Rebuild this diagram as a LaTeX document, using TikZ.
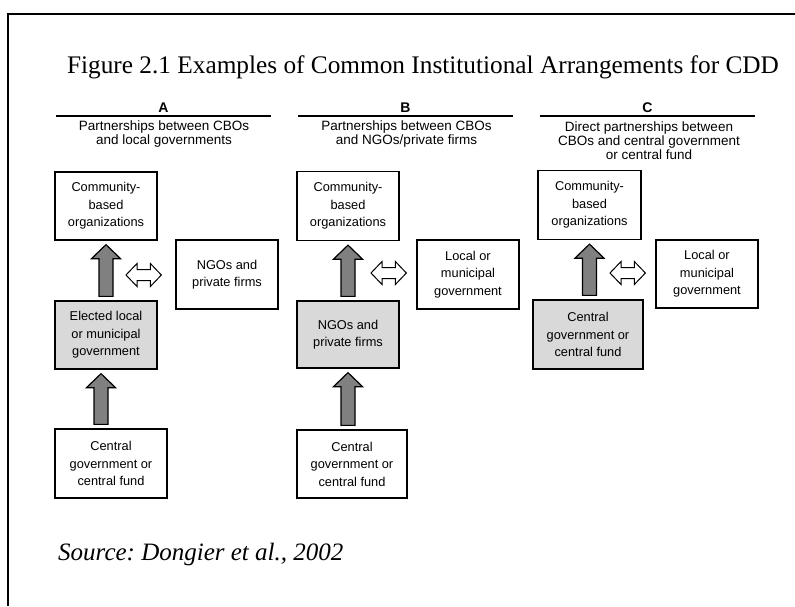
\documentclass[tikz,border=0pt]{standalone}
\usepackage{fontspec}
\setmainfont{Liberation Serif}
\setsansfont{Liberation Sans}
\usetikzlibrary{calc}
\definecolor{boxgray}{HTML}{D9D9D9}
\definecolor{arrowgray}{HTML}{808080}
\frenchspacing

\tikzset{
  box/.style={draw=black, line width=1.3pt, fill=white, minimum width=102pt,
    minimum height=68pt, align=center, inner sep=2pt,
    font=\sffamily\fontsize{12.8}{17.5}\selectfont},
  shaded/.style={box, fill=boxgray},
  heading/.style={font=\sffamily\bfseries\fontsize{14}{16}\selectfont,
    anchor=base, inner sep=0pt},
  subhead/.style={font=\sffamily\fontsize{13.5}{14}\selectfont, align=center,
    inner sep=0pt},
  rule/.style={line width=2pt},
  frame/.style={line width=2.6pt},
  titletext/.style={font=\fontsize{25.3}{30}\selectfont, anchor=base, inner sep=0pt},
  sourcetext/.style={font=\itshape\fontsize{25}{30}\selectfont, anchor=base west,
    inner sep=0pt},
  % broad upward arrow from the lower box to the upper box
  fatup/.style={draw=black, line width=1.2pt, fill=arrowgray, line join=miter,
    to path={let \p1=(\tikztostart), \p2=(\tikztotarget) in
      (\x2-7pt,\y1+4pt) -- (\x2-7pt,\y2-18pt) -- (\x2-14.5pt,\y2-18pt)
      -- (\x2,\y2-4pt) -- (\x2+14.5pt,\y2-18pt) -- (\x2+7pt,\y2-18pt)
      -- (\x2+7pt,\y1+4pt) -- cycle}},
  % hollow two-headed arrow
  dblarrow/.style={draw=black, line width=1pt, fill=white, line join=miter,
    to path={let \p1=(\tikztostart), \p2=(\tikztotarget) in
      (\x1,\y1) -- (\x1+11pt,\y1+11.5pt) -- (\x1+11pt,\y1+5.5pt)
      -- (\x2-11pt,\y1+5.5pt) -- (\x2-11pt,\y1+11.5pt) -- (\x2,\y1)
      -- (\x2-11pt,\y1-11.5pt) -- (\x2-11pt,\y1-5.5pt)
      -- (\x1+11pt,\y1-5.5pt) -- (\x1+11pt,\y1-11.5pt) -- cycle}},
}

\begin{document}
\begin{tikzpicture}[x=1pt, y=-1pt]
\useasboundingbox (0,0) rectangle (795,606);
\fill[white] (0,0) rectangle (795,606);

% open frame
\draw[frame] (8,606) -- (8,14) -- (796,14);

% title and source
\node[titletext] (title) at (423,73) {Figure 2.1 Examples of Common Institutional Arrangements for CDD};
\node[sourcetext] (src) at (58,560) {Source: Dongier et al., 2002};

% ---------- column A ----------
\node[heading] (hA) at (163.5,112) {A};
\draw[rule] (56,116) -- (271,116);
\node[subhead] (sA) at (164,134.5) {Partnerships between CBOs\\and local governments};

\node[box] (a_cbo) at (106,206) {Community-\\based\\organizations};
\node[shaded] (a_elect) at (106,335) {Elected local\\or municipal\\government};
\node[box, minimum height=69pt] (a_ngo) at (227,274.5) {NGOs and\\private firms};
\node[box, minimum width=112pt, minimum height=69pt] (a_cen) at (111,463.5) {Central\\government or\\central fund};

\draw[fatup] (a_elect.north) to (a_cbo.south);
\draw[fatup] (a_cen.north) to ([xshift=-5pt]a_elect.south);
\coordinate (a_link) at (126,275);
\draw[dblarrow] (a_link) to ([xshift=-14pt]a_ngo.west);

% ---------- column B ----------
\node[heading] (hB) at (405.5,112) {B};
\draw[rule] (298,116) -- (513,116);
\node[subhead] (sB) at (406.5,134.5) {Partnerships between CBOs\\and NGOs/private firms};

\node[box, minimum height=69pt] (b_cbo) at (348,206) {Community-\\based\\organizations};
\node[shaded, minimum height=67pt] (b_ngo) at (348,334.5) {NGOs and\\private firms};
\node[box, minimum height=69pt] (b_loc) at (468,274.5) {Local or\\municipal\\government};
\node[box, minimum width=110pt] (b_cen) at (352,464) {Central\\government or\\central fund};

\draw[fatup] (b_ngo.north) to (b_cbo.south);
\draw[fatup] (b_cen.north) to (b_ngo.south);
\coordinate (b_link) at (371,273);
\draw[dblarrow] (b_link) to ([xshift=-10pt]b_loc.west);

% ---------- column C ----------
\node[heading] (hC) at (647.5,112) {C};
\draw[rule] (540,116) -- (755,116);
\node[subhead] (sC) at (649,141) {Direct partnerships between\\CBOs and central government\\or central fund};

\node[box, minimum width=103pt, minimum height=69pt] (c_cbo) at (589.5,205) {Community-\\based\\organizations};
\node[shaded, minimum width=110pt, minimum height=69pt] (c_cen) at (588,334.5) {Central\\government or\\central fund};
\node[box] (c_loc) at (707,274) {Local or\\municipal\\government};

\draw[fatup] (c_cen.north) to (c_cbo.south);
\coordinate (c_link) at (610,273);
\draw[dblarrow] (c_link) to ([xshift=-10pt]c_loc.west);
\end{tikzpicture}
\end{document}
